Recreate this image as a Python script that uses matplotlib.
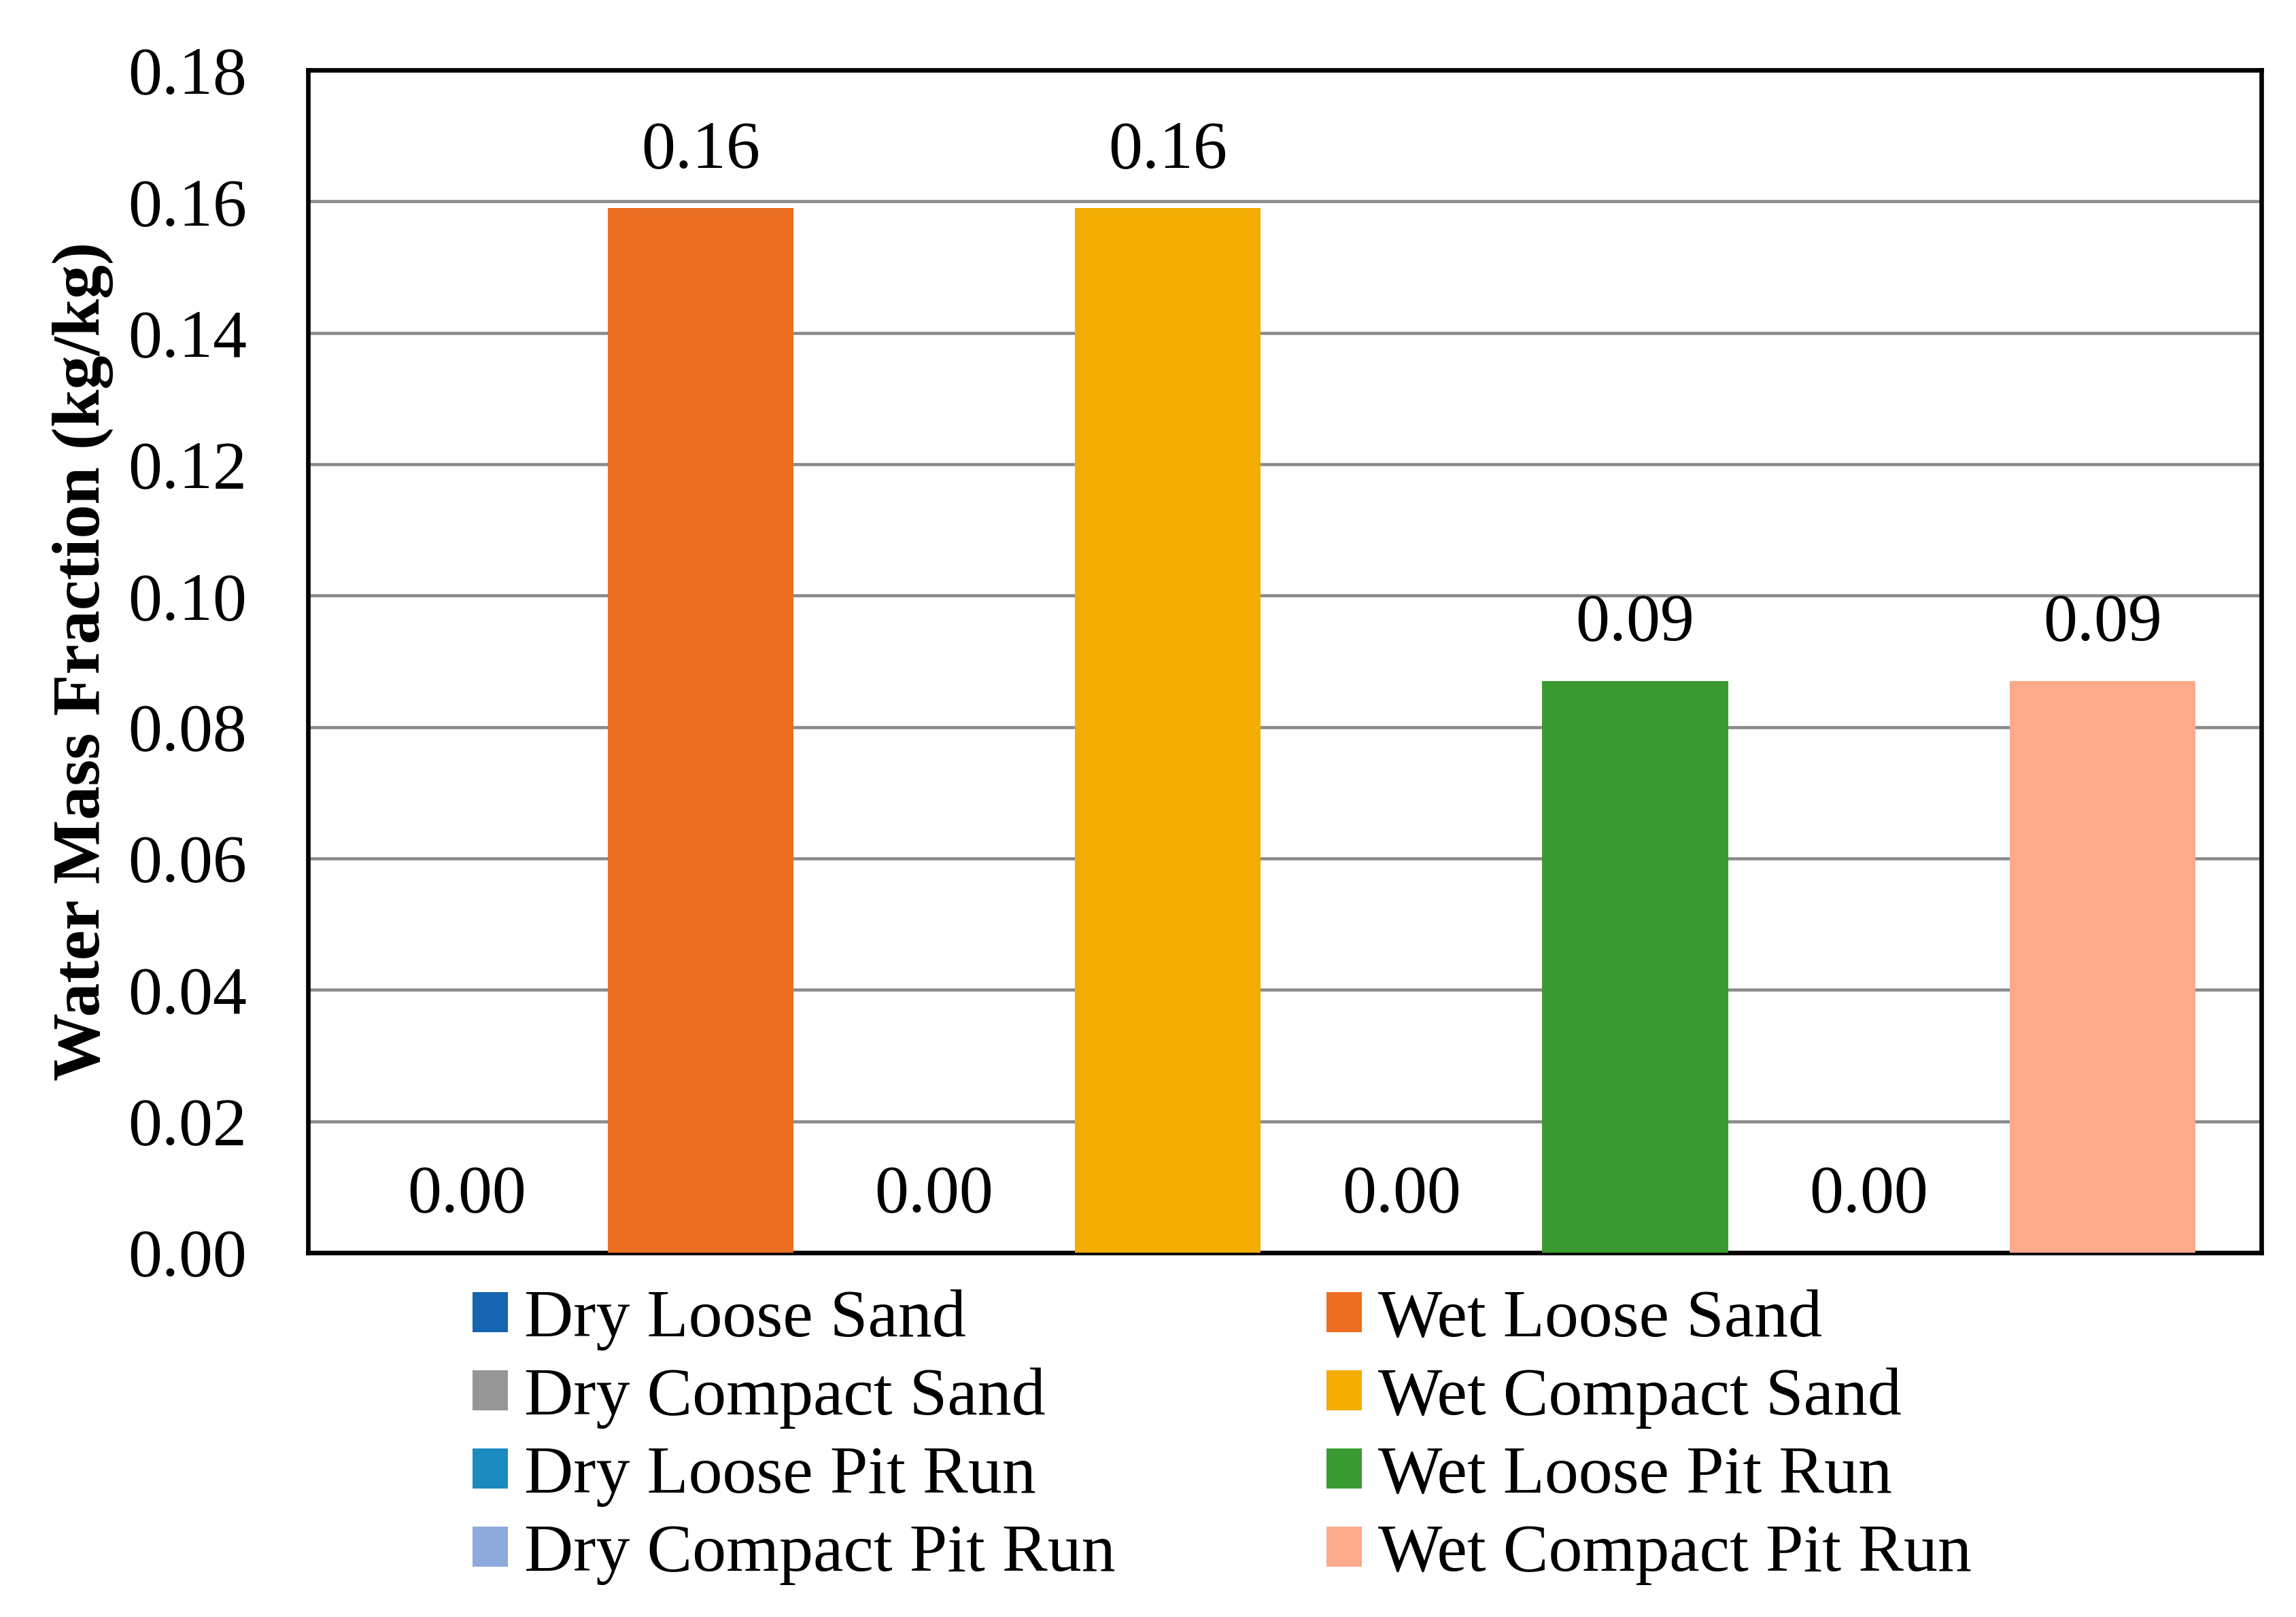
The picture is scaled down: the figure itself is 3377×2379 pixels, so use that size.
import matplotlib
matplotlib.use("Agg")
import matplotlib.pyplot as plt
from matplotlib.patches import Patch

series = ["Dry Loose Sand", "Wet Loose Sand", "Dry Compact Sand", "Wet Compact Sand",
          "Dry Loose Pit Run", "Wet Loose Pit Run", "Dry Compact Pit Run", "Wet Compact Pit Run"]
values = [0.0, 0.159, 0.0, 0.159, 0.0, 0.087, 0.0, 0.087]
colors = ["#1565B0", "#EC6E22", "#969696", "#F3AC02", "#1A8AC0", "#3A9A32", "#8EA9DB", "#FDA98B"]
yticks = [0.00, 0.02, 0.04, 0.06, 0.08, 0.10, 0.12, 0.14, 0.16, 0.18]
ylabel = "Water Mass Fraction (kg/kg)"

plt.rcParams['font.family'] = ['Liberation Serif', 'DejaVu Serif']

W, H = 3377, 2379
fig = plt.figure(figsize=(W/300, H/300), dpi=300)
ax = fig.add_axes([453/W, 1 - 1843/H, (3326-453)/W, (1843-103)/H])

x = list(range(len(series)))
bars = ax.bar(x, values, width=0.795, color=colors, zorder=3)

for xi, v in zip(x, values):
    ax.annotate(f"{v:.2f}", (xi, v), xytext=(0, 20.2), textcoords="offset points",
                ha="center", va="center", fontsize=24, zorder=4)

ax.set_xlim(-0.68, len(series) - 1 + 0.68)
ax.set_ylim(0, 0.18)
ax.set_yticks(yticks)
ax.set_yticklabels([f"{t:.2f}" for t in yticks], fontsize=24)
ax.set_xticks([])
ax.tick_params(axis='y', length=0, pad=21.5)
ax.yaxis.grid(True, color="#8a8a8a", linewidth=1.1, zorder=0)
ax.set_axisbelow(True)
for s in ax.spines.values():
    s.set_linewidth(1.6)
    s.set_color("black")
ax.set_ylabel(ylabel, fontsize=24, fontweight="bold", labelpad=5)

order = [0, 2, 4, 6, 1, 3, 5, 7]
handles = [Patch(facecolor=colors[i], edgecolor='none') for i in order]
labels = [series[i] for i in order]
fig.legend(handles, labels, ncol=2, loc="upper left",
           bbox_to_anchor=(695/W, 1 - 1897/H), frameon=False, fontsize=24,
           handlelength=0.52, handleheight=0.52, handletextpad=0.24,
           columnspacing=3.1, labelspacing=0.25, borderpad=0, borderaxespad=0)

fig.savefig("out.png", dpi=300)
